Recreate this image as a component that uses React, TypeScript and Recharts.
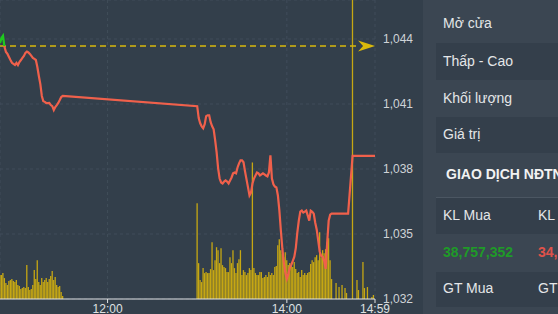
import React from "react";
import {
  ComposedChart, Line, Bar, XAxis, YAxis, CartesianGrid, ReferenceLine,
} from "recharts";

// Phiên sáng: mỗi phút một điểm, từ 10:48 (phút 648) đến 11:30
const morningStart = 648;
const morningPrice = [
  1043.82, 1044.05, 1044.15, 1043.64, 1043.40, 1043.31, 1043.17, 1043.03, 1042.90, 1042.85,
  1042.80, 1042.90, 1042.80, 1042.94, 1043.03, 1043.13, 1043.22, 1043.36, 1043.42, 1043.38,
  1043.31, 1043.22, 1043.13, 1043.08, 1043.03, 1042.71, 1042.29, 1041.92, 1041.37, 1041.13,
  1041.10, 1041.04, 1041.04, 1041.05, 1040.95, 1040.90, 1040.72, 1040.86, 1040.95, 1041.05,
  1041.18, 1041.32, 1041.37,
];
const morningVol = [
  24, 24, 26, 21, 16, 14, 18, 19, 20, 18, 17, 19, 14, 13, 10, 11, 12, 11, 34, 12,
  9, 10, 14, 29, 20, 39, 17, 14, 21, 17, 19, 21, 17, 20, 23, 28, 19, 22, 14, 12,
  13, 7, 3,
];

// Phiên chiều: 13:00 (phút 780) đến 14:30
const afternoonStart = 780;
const afternoonPrice = [
  1040.90, 1040.35, 1040.11, 1039.97, 1039.88, 1040.07, 1040.44, 1040.48, 1040.48, 1040.16,
  1039.97, 1039.83, 1039.33, 1038.77, 1038.03, 1037.56, 1037.38, 1037.33, 1037.42, 1037.47,
  1037.42, 1037.33, 1037.47, 1037.61, 1037.80, 1037.84, 1037.80, 1038.07, 1038.26, 1038.40,
  1038.40, 1038.31, 1037.89, 1037.52, 1037.15, 1036.78, 1036.91, 1037.33, 1037.56, 1037.70,
  1037.84, 1037.80, 1037.70, 1037.75, 1037.80, 1037.75, 1037.70, 1037.66, 1037.84, 1038.63,
  1037.56, 1037.29, 1037.19, 1037.15, 1036.78, 1036.08, 1035.15, 1034.32, 1033.67, 1033.21,
  1032.93, 1033.16, 1033.44, 1033.58, 1033.76, 1033.95, 1034.36, 1035.06, 1035.62, 1036.03,
  1036.08, 1035.99, 1036.03, 1036.08, 1035.85, 1035.62, 1036.08, 1036.03, 1035.94, 1035.52,
  1035.20, 1034.69, 1034.18, 1033.99, 1033.95, 1033.76, 1033.39, 1034.60, 1035.62, 1035.89,
  1035.94,
];
const afternoonVol = [
  96, 36, 19, 17, 31, 26, 27, 26, 26, 30, 57, 29, 39, 52, 49, 36, 51, 34, 32, 31,
  27, 27, 42, 36, 49, 31, 26, 36, 40, 49, 24, 29, 27, 24, 26, 31, 29, 137, 31, 26,
  24, 24, 27, 27, 21, 22, 24, 22, 27, 24, 26, 24, 32, 33, 54, 60, 49, 45, 42, 47,
  39, 34, 36, 34, 32, 37, 30, 26, 27, 22, 29, 24, 26, 24, 26, 27, 35, 39, 37, 42,
  44, 39, 67, 42, 49, 46, 50, 57, 61, 39, 20,
];

// Sau 14:30 và ATC
const tailPriceTime = [881, 884, 899];
const tailPrice = [1035.94, 1038.61, 1038.61];
const tailVolTime = [873, 875, 877, 879, 880, 884, 887, 888, 891, 892, 894, 897, 898];
const tailVol = [16, 12, 14, 11, 6, 400, 19, 9, 37, 11, 12, 2, 4];

const refPrice = 1043.68;
const priceTicks = [1032, 1035, 1038, 1041, 1044];
const timeTicks = [720, 840, 899];

type Row = { t: number; price?: number; vol?: number };
const byTime = new Map<number, Row>();
function put(t: number, key: "price" | "vol", v: number) {
  const r = byTime.get(t) ?? { t };
  r[key] = v;
  byTime.set(t, r);
}
morningPrice.forEach((p, i) => put(morningStart + i, "price", p));
morningVol.forEach((v, i) => put(morningStart + i, "vol", v));
afternoonPrice.forEach((p, i) => put(afternoonStart + i, "price", p));
afternoonVol.forEach((v, i) => put(afternoonStart + i, "vol", v));
tailPriceTime.forEach((t, i) => put(t, "price", tailPrice[i]));
tailVolTime.forEach((t, i) => put(t, "vol", tailVol[i]));
const data = [...byTime.values()].sort((a, b) => a.t - b.t);

const allPrices = [...morningPrice, ...afternoonPrice, ...tailPrice];
const pMax = Math.max(...allPrices);
const pMin = Math.min(...allPrices);
const splitOffset = (pMax - refPrice) / (pMax - pMin);

const FONT = "'Liberation Sans', Arial, sans-serif";
const BG = "#333f4b";

function fmtTime(t: number) {
  const h = Math.floor(t / 60);
  const m = t % 60;
  return `${h}:${m < 10 ? "0" + m : m}`;
}

// mũi tên vàng ở cuối đường tham chiếu
function ArrowLabel(props: any) {
  const vb = props.viewBox ?? {};
  const tip = (vb.x ?? 0) + (vb.width ?? 0) + 15;
  const cy = vb.y ?? 0;
  return (
    <path
      d={`M${tip},${cy} L${tip - 17},${cy - 5.5} L${tip - 12},${cy} L${tip - 17},${cy + 5.5} Z`}
      fill="#d9b90c"
    />
  );
}

const panelRows = [
  { label: "Mở cửa", top: 5, h: 38, dark: false },
  { label: "Thấp - Cao", top: 43, h: 37, dark: true },
  { label: "Khối lượng", top: 80, h: 37, dark: false },
  { label: "Giá trị", top: 117, h: 36, dark: true },
];

function SidePanel() {
  const cell = { position: "absolute" as const, left: 20, fontSize: 14, color: "#e4e6e8", whiteSpace: "nowrap" as const };
  return (
    <div style={{ position: "absolute", left: 423, top: 0, width: 135, height: 314, background: "#3b4652", overflow: "hidden", fontFamily: FONT }}>
      {panelRows.map((r) => (
        <div key={r.label} style={{ position: "absolute", top: r.top, left: r.dark ? 13 : 0, right: 0, height: r.h, background: r.dark ? "#343f4b" : "transparent" }}>
          <span style={{ ...cell, left: r.dark ? 7 : 20, top: r.h / 2 - 9 }}>{r.label}</span>
        </div>
      ))}
      <div style={{ position: "absolute", top: 166, left: 23, fontSize: 14, fontWeight: 700, color: "#f2f2f2", whiteSpace: "nowrap" }}>
        GIAO DỊCH NĐTNN
      </div>
      <div style={{ position: "absolute", top: 197, left: 13, right: 0, height: 1, background: "#4b5662" }} />
      <div style={{ position: "absolute", top: 198, left: 13, right: 0, height: 36, background: "#343f4b" }}>
        <span style={{ ...cell, left: 7, top: 9 }}>KL Mua</span>
        <span style={{ ...cell, left: 102, top: 9 }}>KL Bán</span>
      </div>
      <div style={{ position: "absolute", top: 234, left: 0, right: 0, height: 38 }}>
        <span style={{ ...cell, top: 10, fontWeight: 700, color: "#1f9a28" }}>38,757,352</span>
        <span style={{ ...cell, left: 115, top: 10, fontWeight: 700, color: "#e0524a" }}>34,</span>
      </div>
      <div style={{ position: "absolute", top: 272, left: 13, right: 0, height: 35, background: "#343f4b" }}>
        <span style={{ ...cell, left: 7, top: 8 }}>GT Mua</span>
        <span style={{ ...cell, left: 102, top: 8 }}>GT Bán</span>
      </div>
    </div>
  );
}

export default function App() {
  return (
    <div style={{ position: "absolute", left: 0, top: 0, width: 558, height: 314, background: BG, overflow: "hidden", fontFamily: FONT }}>
      <ComposedChart width={423} height={314} data={data} margin={{ top: 0, right: 0, bottom: 0, left: 0 }}>
        <defs>
          <linearGradient id="priceGrad" x1="0" y1="0" x2="0" y2="1">
            <stop offset={splitOffset} stopColor="#1ec81e" />
            <stop offset={splitOffset} stopColor="#f0604b" />
          </linearGradient>
        </defs>
        <CartesianGrid yAxisId="price" stroke="#414d5a" strokeDasharray="3 3" />
        <XAxis
          dataKey="t"
          type="number"
          domain={[648, 899]}
          ticks={timeTicks}
          tickFormatter={fmtTime}
          height={15}
          tickSize={4}
          tickMargin={1}
          axisLine={{ stroke: "#e2e4e6" }}
          tickLine={{ stroke: "#e2e4e6" }}
          tick={{ fill: "#dfe1e3", fontSize: 12, fontFamily: FONT }}
          allowDataOverflow
        />
        <YAxis
          yAxisId="price"
          orientation="right"
          domain={[1032, 1045.8]}
          ticks={priceTicks}
          tickFormatter={(v: number) => v.toLocaleString("en-US")}
          width={48}
          axisLine={false}
          tickLine={false}
          tick={{ fill: "#cfd3d7", fontSize: 12, fontFamily: FONT }}
          allowDataOverflow
        />
        <YAxis yAxisId="vol" hide domain={[0, 300]} allowDataOverflow />
        <Bar yAxisId="vol" dataKey="vol" fill="#c6a713" barSize={1.3} isAnimationActive={false} />
        <ReferenceLine
          yAxisId="price"
          segment={[{ x: 648, y: refPrice }, { x: 889, y: refPrice }]}
          stroke="#d9b90c"
          strokeWidth={1.5}
          strokeDasharray="6 4"
          label={<ArrowLabel />}
        />
        <Line
          yAxisId="price"
          dataKey="price"
          type="linear"
          stroke="url(#priceGrad)"
          strokeWidth={2.2}
          dot={false}
          activeDot={false}
          connectNulls
          isAnimationActive={false}
        />
      </ComposedChart>
      <SidePanel />
    </div>
  );
}
